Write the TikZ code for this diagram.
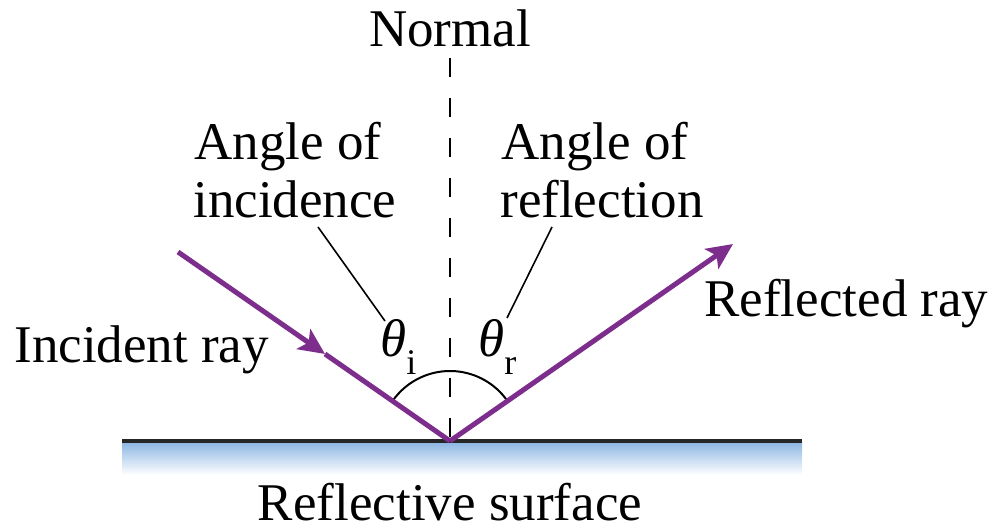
\documentclass[tikz,border=0pt]{standalone}
\usepackage{fontspec}
\setmainfont{Liberation Serif}
\usetikzlibrary{arrows.meta}
\definecolor{raypurple}{RGB}{125,45,140}
\definecolor{surfblue}{RGB}{140,182,227}
\begin{document}
\begin{tikzpicture}[x=0.5pt,y=0.5pt,
  lbl/.style={inner sep=0pt, font=\fontsize{26.5}{29}\selectfont},
  raypath/.style={draw=raypurple, line width=2.5pt},
  raytip/.style={-{Stealth[length=13pt,width=12pt,inset=3pt]}},
  leader/.style={draw=black, line width=0.8pt},
  normalline/.style={draw=black, line width=1pt, dash pattern=on 9.5pt off 10.5pt},
  anglearc/.style={draw=black, line width=1pt},
  surfline/.style={draw=black!85, line width=1.7pt}]
\useasboundingbox (0,0) rectangle (996,529);
% surface
\shade[top color=surfblue, bottom color=white] (122,54) rectangle (802,87);
\coordinate (SL) at (122,88);
\coordinate (SR) at (802,88);
\draw[surfline] (SL) -- (SR);
% key points
\coordinate (O) at (450,88);
\coordinate (A) at (178,277);
\coordinate (M) at (325,175);
\coordinate (B) at (733,285);
\coordinate (N) at (450,471);
% normal
\draw[normalline] (N) -- (O);
% angle arc
\draw[anglearc] (O) ++(145.2:70) arc[start angle=145.2,end angle=34.8,radius=70];
% rays
\draw[raypath,raytip] (A) -- (M);
\draw[raypath] (M) -- (O);
\draw[raypath,raytip] (O) -- (B);
% labels
\node[lbl, anchor=base] (normal) at (450,482) {Normal};
\node[lbl, anchor=base west] (aoi1) at (194,369) {Angle of};
\node[lbl, anchor=base west] (aoi2) at (193,311) {incidence};
\node[lbl, anchor=base west] (aor1) at (501,369) {Angle of};
\node[lbl, anchor=base west] (aor2) at (500,311) {reflection};
\node[lbl, anchor=base west] (inc) at (14,166) {Incident ray};
\node[lbl, anchor=base west] (refl) at (704,212) {Reflected ray};
\node[lbl, anchor=base] (surf) at (450,8) {Reflective surface};
\node[lbl, anchor=base west] (thi) at (380,172) {{\itshape θ}\raisebox{-9pt}{\fontsize{18}{18}\selectfont i}};
\node[lbl, anchor=base west] (thr) at (478,172) {{\itshape θ}\raisebox{-9pt}{\fontsize{18}{18}\selectfont r}};
% leaders
\coordinate (Li1) at (318,302);
\coordinate (Li2) at (385,208);
\coordinate (Lr1) at (552,302);
\coordinate (Lr2) at (507,211);
\draw[leader] (Li1) -- (Li2);
\draw[leader] (Lr1) -- (Lr2);
\end{tikzpicture}
\end{document}
